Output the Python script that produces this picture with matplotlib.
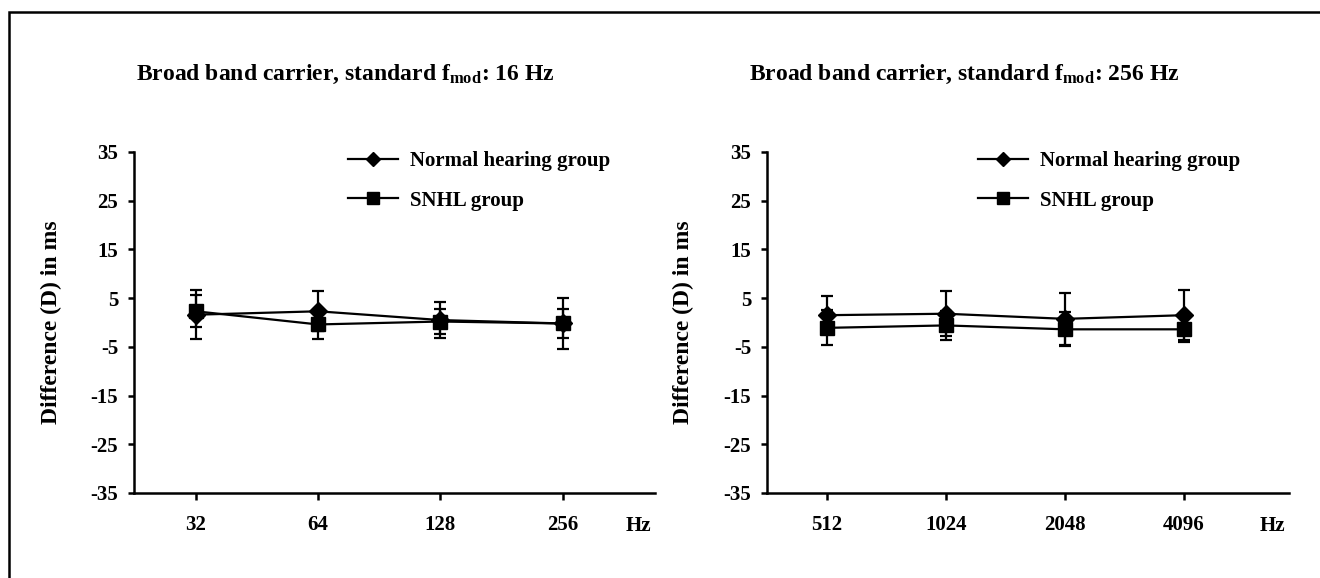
import matplotlib
matplotlib.use("Agg")
import matplotlib.pyplot as plt
from matplotlib.lines import Line2D
from matplotlib.patches import Rectangle

plt.rcParams['font.family'] = ['Liberation Serif', 'DejaVu Serif']
plt.rcParams['font.weight'] = 'bold'
plt.rcParams['mathtext.fontset'] = 'custom'
plt.rcParams['mathtext.rm'] = 'Liberation Serif:bold'
plt.rcParams['mathtext.it'] = 'Liberation Serif:bold'
plt.rcParams['mathtext.bf'] = 'Liberation Serif:bold'

# ---- data ----
left_labels = ["32", "64", "128", "256"]
left_nh_mean = [1.6, 2.3, 0.5, -0.2]
left_nh_sd = [5.0, 4.1, 3.75, 5.3]
left_snhl_mean = [2.3, -0.4, 0.2, -0.2]
left_snhl_sd = [3.3, 2.9, 2.5, 2.9]

right_labels = ["512", "1024", "2048", "4096"]
right_nh_mean = [1.5, 1.8, 0.75, 1.5]
right_nh_sd = [3.9, 4.6, 5.35, 5.1]
right_snhl_mean = [-1.1, -0.6, -1.4, -1.4]
right_snhl_sd = [3.6, 2.9, 3.5, 2.6]

titles = [r"Broad band carrier, standard f$_{\rm mod}$: 16 Hz",
          r"Broad band carrier, standard f$_{\rm mod}$: 256 Hz"]
series_names = ["Normal hearing group", "SNHL group"]
yticks = [-35, -25, -15, -5, 5, 15, 25, 35]
y_title = "Difference (D) in ms"
x_unit = "Hz"

W, H = 1320, 578
fig = plt.figure(figsize=(W / 100, H / 100), dpi=100)

ax_specs = [
    dict(rect=[134 / W, 1 - 493 / H, 521 / W, 341 / H], xlim=(0.495, 4.755),
         labels=left_labels, nh=(left_nh_mean, left_nh_sd),
         sn=(left_snhl_mean, left_snhl_sd), title=titles[0], tx=136, leg_x=348, ylab=62, hz=638),
    dict(rect=[767 / W, 1 - 493 / H, 522 / W, 341 / H], xlim=(0.50, 4.88),
         labels=right_labels, nh=(right_nh_mean, right_nh_sd),
         sn=(right_snhl_mean, right_snhl_sd), title=titles[1], tx=749, leg_x=978, ylab=694, hz=1272),
]

fs = 15
lw = 1.6
for spec in ax_specs:
    ax = fig.add_axes(spec['rect'])
    x0 = spec['rect'][0] * W
    aw = spec['rect'][2] * W
    x = list(range(1, len(spec['labels']) + 1))
    ax.errorbar(x, spec['nh'][0], yerr=spec['nh'][1], color='black', lw=lw,
                marker='D', ms=9.5, capsize=4.2, capthick=lw, elinewidth=lw, zorder=3)
    ax.errorbar(x, spec['sn'][0], yerr=spec['sn'][1], color='black', lw=lw,
                marker='s', ms=10.5, capsize=4.2, capthick=lw, elinewidth=lw, zorder=3)
    ax.set_xlim(*spec['xlim'])
    ax.set_ylim(-35, 35)
    ax.set_yticks(yticks)
    ax.set_yticklabels([str(v) for v in yticks])
    ax.set_xticks(x)
    ax.set_xticklabels(spec['labels'])
    for s in ['top', 'right']:
        ax.spines[s].set_visible(False)
    for s in ['left', 'bottom']:
        ax.spines[s].set_linewidth(1.8)
    ax.tick_params(axis='y', direction='out', length=4.5, width=1.8, pad=7, labelsize=fs)
    ax.tick_params(axis='x', direction='out', length=5, width=1.8, pad=11, labelsize=fs)
    for lab in ax.get_xticklabels() + ax.get_yticklabels():
        lab.set_fontweight('bold')
    ax.set_ylabel(y_title, fontsize=17, fontweight='bold')
    ax.yaxis.set_label_coords((spec['ylab'] - x0) / aw, 0.5)
    ax.text((spec['hz'] - x0) / aw, (493 - 526) / 341, x_unit, transform=ax.transAxes,
            ha='center', va='center', fontsize=fs, fontweight='bold')
    handles = [Line2D([], [], color='black', lw=lw, marker='D', ms=7),
               Line2D([], [], color='black', lw=lw, marker='s', ms=8)]
    ax.legend(handles, series_names, loc='upper left',
              bbox_to_anchor=((spec['leg_x'] - x0) / aw, (493 - 151) / 341),
              frameon=False, handlelength=2.4, handletextpad=0.6, labelspacing=0.95,
              borderpad=0, borderaxespad=0, prop=dict(size=fs, weight='bold'))
    fig.text(spec['tx'] / W, 1 - 80 / H, spec['title'], ha='left', va='baseline',
             fontsize=17, fontweight='bold')

fig.add_artist(Rectangle((9 / W, -0.1), 1.2, 1.1 - 12 / H, transform=fig.transFigure,
                         fill=False, ec='black', lw=1.8, clip_on=False))

fig.savefig("out.png", dpi=100, facecolor='white')
